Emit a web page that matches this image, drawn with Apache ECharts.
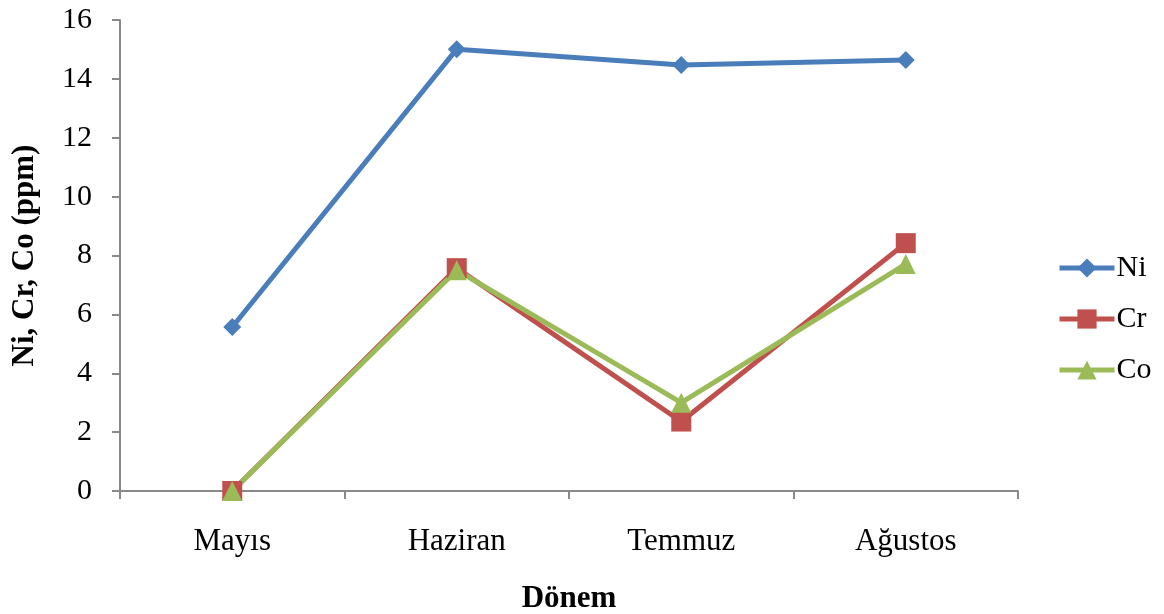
<!DOCTYPE html>
<html><head><meta charset="utf-8">
<script src="https://cdn.jsdelivr.net/npm/echarts@6/dist/echarts.min.js"></script>
<style>html,body{margin:0;padding:0;background:#fff}#c{width:1164px;height:614px}</style>
</head><body><div id="c"></div>
<script>
const categories = ['Mayıs', 'Haziran', 'Temmuz', 'Ağustos'];
const ni = [5.57, 15.01, 14.47, 14.64];
const cr = [0, 7.57, 2.36, 8.42];
const co = [0, 7.5, 3.0, 7.71];
const yTicks = [0, 2, 4, 6, 8, 10, 12, 14, 16];

const font = 'Liberation Serif';
const axisColor = '#898989';
const chart = echarts.init(document.getElementById('c'));
function mk(name, data, color, symbol, size) {
  return {
    name, type: 'line', data, symbol, symbolSize: size,
    lineStyle: { width: 5, color }, itemStyle: { color },
    emphasis: { disabled: true }, animation: false
  };
}
chart.setOption({
  animation: false,
  grid: { left: 120, right: 146, top: 20, bottom: 123, outerBoundsMode: 'none', containLabel: false },
  legend: {
    orient: 'vertical', left: 1057, top: 253, itemGap: 21, padding: 0,
    itemWidth: 55, itemHeight: 24,
    lineStyle: { width: 5 },
    textStyle: { fontFamily: font, fontSize: 30, color: '#000', padding: [0, 0, 0, -3] },
    data: ['Ni', 'Cr', 'Co']
  },
  xAxis: {
    type: 'category', data: categories, boundaryGap: true,
    name: 'Dönem', nameLocation: 'middle', nameGap: 92,
    nameTextStyle: { fontFamily: font, fontSize: 31, fontWeight: 'bold', color: '#000' },
    axisLine: { lineStyle: { color: axisColor, width: 2 } },
    axisTick: { show: true, length: 8, lineStyle: { color: axisColor, width: 2 } },
    axisLabel: { fontFamily: font, fontSize: 31, color: '#000', margin: 35 }
  },
  yAxis: {
    type: 'value', min: yTicks[0], max: yTicks[yTicks.length - 1], interval: 2,
    name: 'Ni, Cr, Co (ppm)', nameLocation: 'middle', nameGap: 80, nameRotate: 90,
    nameTextStyle: { fontFamily: font, fontSize: 31, fontWeight: 'bold', color: '#000' },
    splitLine: { show: false },
    axisLine: { show: true, lineStyle: { color: axisColor, width: 2 } },
    axisTick: { show: true, length: 8, lineStyle: { color: axisColor, width: 2 } },
    axisLabel: { fontFamily: font, fontSize: 30, color: '#000', margin: 28 }
  },
  series: [
    mk('Ni', ni, '#4a7ebb', 'diamond', 18),
    mk('Cr', cr, '#c0504d', 'rect', 20),
    mk('Co', co, '#9bbb59', 'triangle', 20)
  ]
});
</script></body></html>
